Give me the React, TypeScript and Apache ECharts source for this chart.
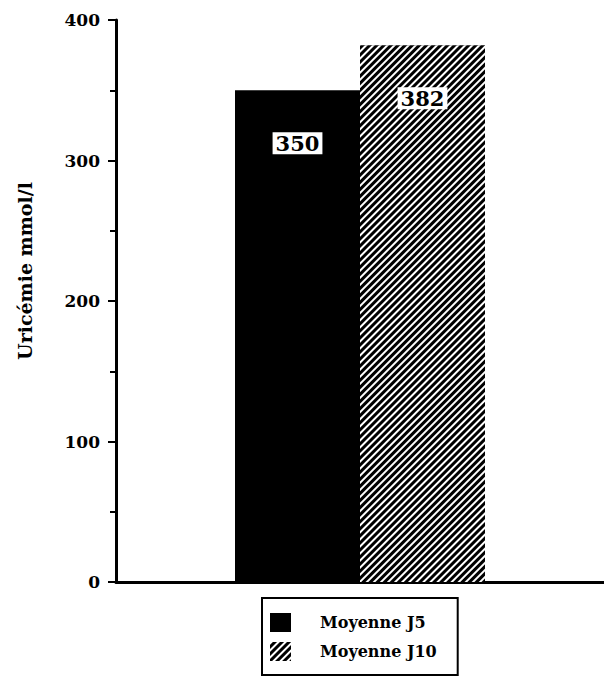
import React, { useEffect, useRef } from "react";
import * as echarts from "echarts";

const categories = ["Uricémie"];
const seriesNames = ["Moyenne J5", "Moyenne J10"];
const valuesJ5 = [350];
const valuesJ10 = [382];
const yTicks = { min: 0, max: 400, interval: 100 };
const yAxisName = "Uricémie mmol/l";

const FONT = "'DejaVu Serif', 'Liberation Serif', serif";

export default function App() {
  const ref = useRef<HTMLDivElement>(null);
  useEffect(() => {
    if (!ref.current) return;
    const chart = echarts.init(ref.current, undefined, { renderer: "svg" });
    const labelStyle = {
      show: true,
      position: "insideTop" as const,
      distance: 42,
      color: "#000",
      backgroundColor: "#fff",
      padding: [1, 3, 0, 3],
      fontFamily: FONT,
      fontSize: 21,
      fontWeight: "bold" as const,
    };
    chart.setOption({
      animation: false,
      backgroundColor: "#fff",
      grid: { left: 116, right: -8, top: 20, bottom: 97 },
      graphic: [
        {
          type: "text",
          x: 25,
          y: 271,
          rotation: Math.PI / 2,
          style: {
            text: yAxisName,
            font: `bold 19px ${FONT}`,
            fill: "#000",
            textAlign: "center",
            textVerticalAlign: "middle",
          },
        },
      ],
      legend: {
        orient: "vertical",
        left: 262,
        top: 598,
        padding: [15, 21, 14, 8],
        borderColor: "#000",
        borderWidth: 2,
        icon: "rect",
        itemWidth: 21,
        itemHeight: 19,
        itemGap: 10,
        textStyle: {
          fontFamily: FONT,
          fontSize: 16,
          fontWeight: "bold",
          color: "#000",
          padding: [0, 0, 0, 24],
        },
        data: seriesNames,
      },
      xAxis: {
        type: "category",
        data: categories,
        axisLine: { lineStyle: { color: "#000", width: 3 } },
        axisTick: { show: false },
        axisLabel: { show: false },
      },
      yAxis: {
        type: "value",
        min: yTicks.min,
        max: yTicks.max,
        interval: yTicks.interval,
        axisLine: { show: true, lineStyle: { color: "#000", width: 3 } },
        axisTick: { show: true, length: 8, lineStyle: { color: "#000", width: 2 } },
        minorTick: { show: true, splitNumber: 2, length: 6, lineStyle: { color: "#000", width: 2 } },
        splitLine: { show: false },
        axisLabel: { margin: 16, fontFamily: FONT, fontSize: 17, fontWeight: "bold", color: "#000" },
      },
      series: [
        {
          name: seriesNames[0],
          type: "bar",
          data: valuesJ5,
          barWidth: 125,
          barGap: "0%",
          itemStyle: { color: "#000" },
          label: labelStyle,
        },
        {
          name: seriesNames[1],
          type: "bar",
          data: valuesJ10,
          barWidth: 125,
          itemStyle: {
            color: "#000",
            decal: {
              symbol: "rect",
              symbolSize: 1,
              color: "#fff",
              dashArrayX: [1, 0],
              dashArrayY: [1.5, 2.6],
              rotation: -Math.PI / 4,
            },
          },
          label: labelStyle,
        },
      ],
    });
    return () => chart.dispose();
  }, []);
  return (
    <div
      ref={ref}
      style={{ position: "fixed", left: 0, top: 0, width: 604, height: 679, background: "#fff" }}
    />
  );
}
